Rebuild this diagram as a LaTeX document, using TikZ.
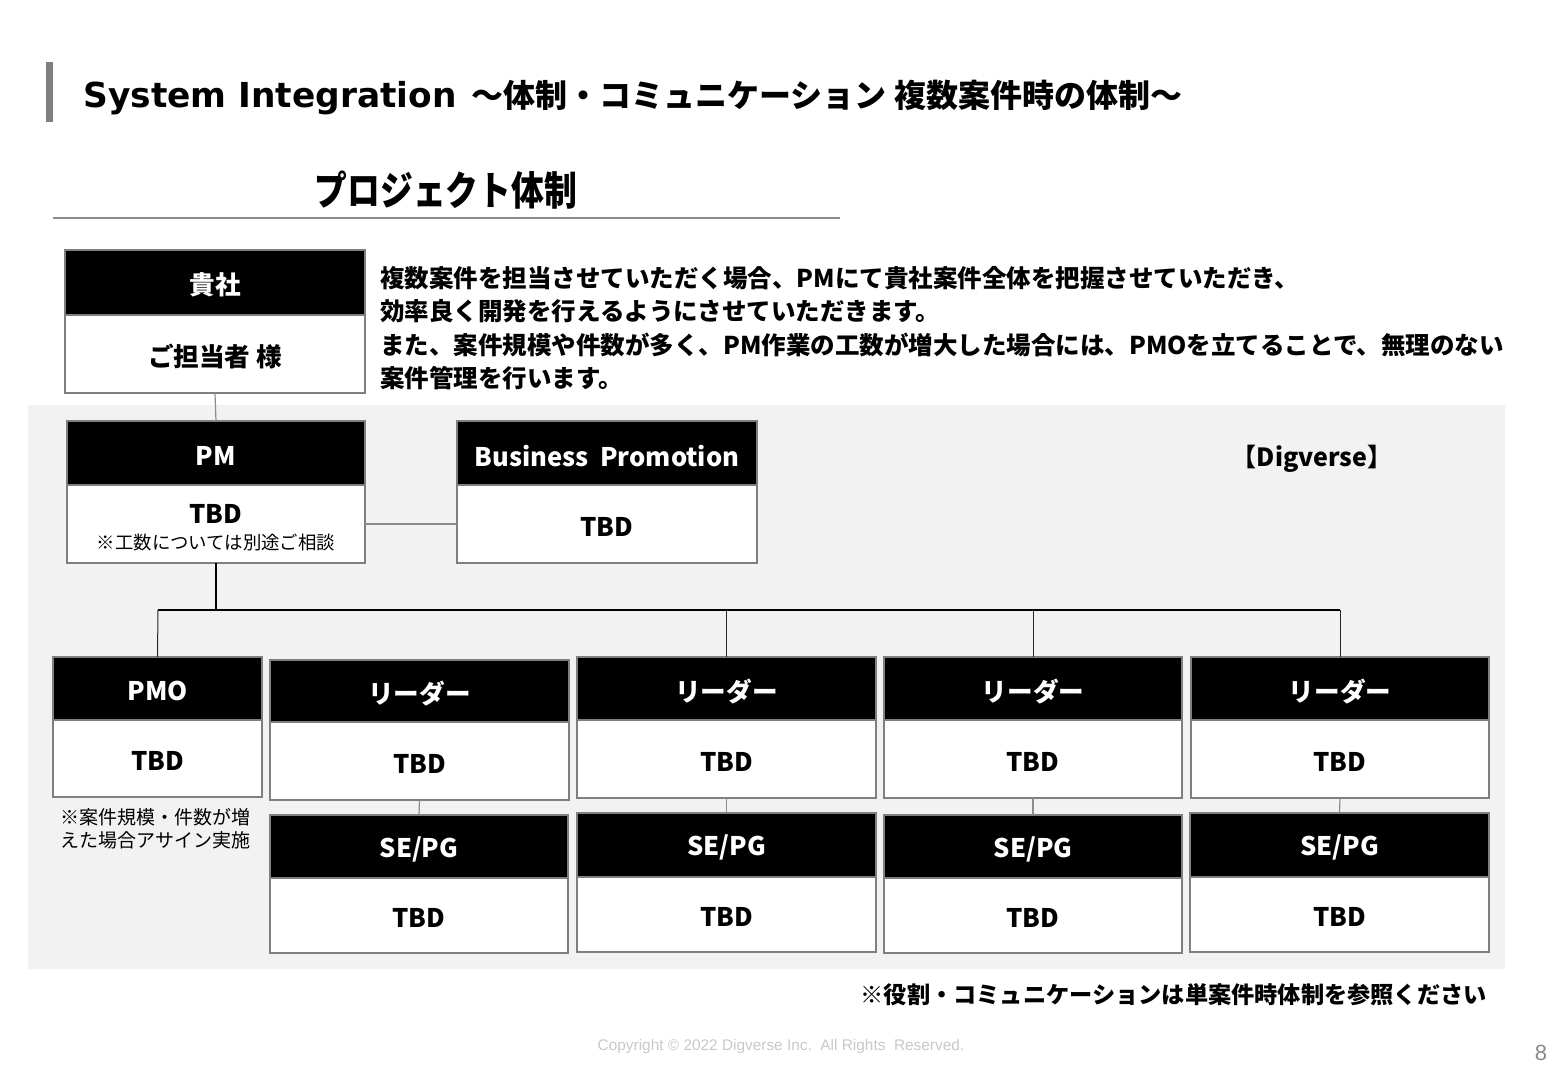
\documentclass[tikz,border=0pt]{standalone}
\usepackage{fontspec}
\usepackage{graphicx}
\setmainfont{Noto Sans CJK JP}
\newfontfamily\arialf{Liberation Sans}
\newfontfamily\titlelat{DejaVu Sans}
\definecolor{bggray}{HTML}{F2F2F2}
\definecolor{bordergray}{HTML}{7F7F7F}
\definecolor{linegray}{HTML}{8C8C8C}
\definecolor{footgray}{HTML}{C8C8C8}
\definecolor{pagegray}{HTML}{8A8A8A}
\newcommand\lowered[2]{\raisebox{#1}[\height][\depth]{#2}}
\newcommand\orgbox[8]{%
  \pgfmathsetmacro\obw{(#4-#2)*0.5}%
  \pgfmathsetmacro\obhh{(#5-#3)*0.5}%
  \pgfmathsetmacro\obbh{(#6-#5)*0.5}%
  \node[hdr,minimum width=\obw pt,minimum height=\obhh pt] (#1h) at ({(#2+#4)/2},{(#3+#5)/2}) {\lowered{-1.3pt}{#7}};%
  \node[bdy,minimum width=\obw pt,minimum height=\obbh pt] (#1b) at ({(#2+#4)/2},{(#5+#6)/2}) {\lowered{-3.1pt}{\begin{tabular}{@{}c@{}}#8\end{tabular}}};%
}
\begin{document}
\begin{tikzpicture}[x=0.5pt,y=-0.5pt,
  hdr/.style={draw=bordergray,line width=1pt,fill=black,text=white,inner sep=0pt,outer sep=0pt,
    font=\fontsize{12.8}{15}\selectfont\bfseries},
  bdy/.style={draw=bordergray,line width=1pt,fill=white,text=black,inner sep=0pt,outer sep=0pt,
    font=\fontsize{12.8}{15}\selectfont\bfseries},
  thinline/.style={draw=linegray,line width=0.6pt},
  busline/.style={draw=black,line width=0.9pt},
  dropline/.style={draw=black!85,line width=0.5pt}]
\useasboundingbox (0,0) rectangle (1560,1081);
% title
\fill[bordergray] (46,62) rectangle (53,122);
\node[anchor=base west,inner sep=0pt,font=\fontsize{16}{18}\selectfont\bfseries] (title) at (83,108)
  {{\titlelat\fontsize{17.2}{18}\selectfont System Integration}\ \ ～体制・コミュニケーション 複数案件時の体制～};
\node[inner sep=0pt,font=\fontsize{20}{22}\selectfont\bfseries] (heading) at (446,190)
  {\scalebox{0.82}[1]{プロジェクト体制}};
\draw[draw=linegray,line width=0.6pt] (53,218) -- (840,218);
% gray panel
\fill[bggray] (28,405) rectangle (1505,969);
% description
\node[anchor=north west,inner sep=0pt,align=left,font=\fontsize{12.25}{16.75}\selectfont\bfseries] (desc) at (380,266)
  {複数案件を担当させていただく場合、PMにて貴社案件全体を把握させていただき、\\
   効率良く開発を行えるようにさせていただきます。\\
   また、案件規模や件数が多く、PM作業の工数が増大した場合には、PMOを立てることで、無理のない\\
   案件管理を行います。};
% boxes
\orgbox{ks}{65}{250}{365}{315}{393}{貴社}{ご担当者 様}
\orgbox{pm}{67}{421}{365}{485}{563}{PM}{TBD\\[-2pt]{\fontsize{9.2}{11}\selectfont\mdseries ※工数については別途ご相談}}
\orgbox{bp}{457}{421}{757}{485}{563}{Business\ \ Promotion}{TBD}
\orgbox{pmo}{53}{657}{262}{720}{797}{PMO}{TBD}
\orgbox{la}{270}{660}{569}{722}{800}{リーダー}{TBD}
\orgbox{lb}{577}{657}{876}{720}{798}{リーダー}{TBD}
\orgbox{lc}{884}{657}{1182}{720}{798}{リーダー}{TBD}
\orgbox{ld}{1191}{657}{1489}{720}{798}{リーダー}{TBD}
\orgbox{sa}{270}{815}{568}{878}{953}{SE/PG}{TBD}
\orgbox{sb}{577}{813}{876}{877}{952}{SE/PG}{TBD}
\orgbox{sc}{884}{815}{1182}{878}{953}{SE/PG}{TBD}
\orgbox{sd}{1190}{813}{1489}{877}{952}{SE/PG}{TBD}
% connectors
\draw[thinline] (ksb.south) -- (pmh.north);
\draw[draw=linegray,line width=0.8pt] (pmb.east |- 0,524) -- (bpb.west |- 0,524);
\coordinate (busL) at (158,610);
\coordinate (busR) at (1340,610);
\draw[busline] (pmb.south) -- (pmb.south |- busL);
\draw[busline] (busL) -- (busR);
\draw[dropline] (busL) -- (pmoh.north);
\draw[dropline] (lbh.north |- busL) -- (lbh.north);
\draw[dropline] (lch.north |- busL) -- (lch.north);
\draw[dropline] (busR) -- (ldh.north);
\draw[thinline] (lab.south) -- (sah.north);
\draw[thinline] (lbb.south) -- (sbh.north);
\draw[thinline] (lcb.south) -- (sch.north);
\draw[thinline] (ldb.south) -- (sdh.north);
% notes
\node[anchor=north west,inner sep=0pt,align=left,font=\fontsize{9.5}{11.5}\selectfont] (pmonote) at (60,808)
  {※案件規模・件数が増\\えた場合アサイン実施};
\node[inner sep=0pt,font=\fontsize{12.5}{15}\selectfont\bfseries] (dig) at (1312,459) {【Digverse】};
\node[anchor=east,inner sep=0pt,font=\fontsize{11.6}{14}\selectfont\bfseries] (ref) at (1487,995)
  {※役割・コミュニケーションは単案件時体制を参照ください};
% footer
\node[inner sep=0pt,text=footgray,font=\arialf\fontsize{7.7}{9}\selectfont] (copy) at (781,1047)
  {Copyright © 2022 Digverse Inc.\ \ All Rights\ \ Reserved.};
\node[inner sep=0pt,text=pagegray,font=\arialf\fontsize{11}{13}\selectfont] (page) at (1541,1053) {8};
\end{tikzpicture}
\end{document}
